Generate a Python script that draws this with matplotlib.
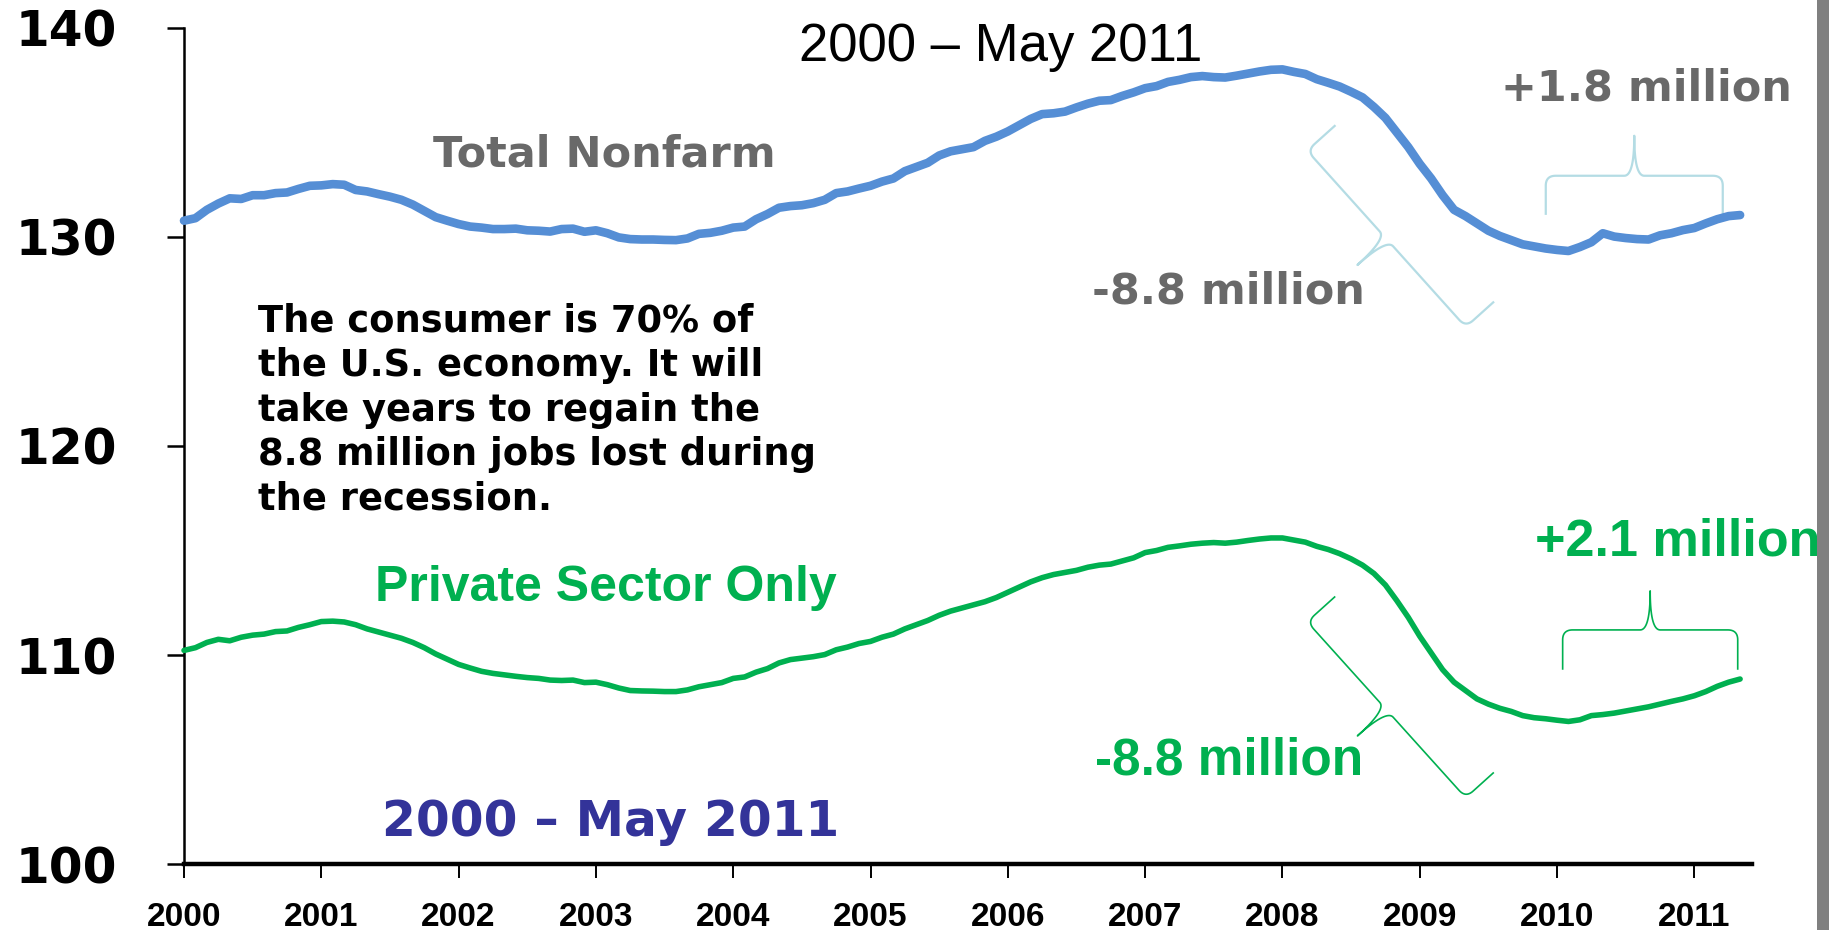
import numpy as np
import matplotlib
matplotlib.use("Agg")
import matplotlib.pyplot as plt
from matplotlib.patches import Rectangle

# Monthly payroll employment, millions, Jan 2000 - May 2011
total_nonfarm = [
    130.78, 130.90, 131.30, 131.60, 131.85, 131.82, 132.00, 132.00, 132.10, 132.13, 132.30, 132.45,
    132.47, 132.53, 132.50, 132.25, 132.18, 132.05, 131.93, 131.78, 131.55, 131.25, 130.95, 130.78,
    130.62, 130.50, 130.45, 130.38, 130.38, 130.40, 130.32, 130.30, 130.26, 130.38, 130.40, 130.25,
    130.32, 130.18, 129.98, 129.90, 129.88, 129.88, 129.86, 129.85, 129.93, 130.15, 130.20, 130.30,
    130.45, 130.50, 130.85, 131.10, 131.40, 131.48, 131.52, 131.62, 131.78, 132.10, 132.18, 132.32,
    132.45, 132.65, 132.80, 133.15, 133.35, 133.55, 133.90, 134.10, 134.20, 134.30, 134.60, 134.80,
    135.05, 135.35, 135.65, 135.88, 135.92, 136.00, 136.20, 136.38, 136.52, 136.55, 136.75, 136.92,
    137.12, 137.22, 137.42, 137.52, 137.65, 137.70, 137.65, 137.63, 137.72, 137.82, 137.92, 138.00,
    138.02, 137.90, 137.80, 137.55, 137.38, 137.20, 136.95, 136.68, 136.22, 135.70, 135.00, 134.30,
    133.50, 132.80, 132.00, 131.30, 131.00, 130.65, 130.30, 130.05, 129.85, 129.65, 129.55, 129.45,
    129.38, 129.33, 129.52, 129.75, 130.18, 130.02, 129.95, 129.90, 129.88, 130.08, 130.18, 130.33,
    130.43, 130.65, 130.85, 131.00, 131.05,
]
private_sector = [
    110.22, 110.35, 110.60, 110.75, 110.68, 110.85, 110.95, 111.00, 111.12, 111.15, 111.32, 111.45,
    111.60, 111.62, 111.58, 111.45, 111.25, 111.10, 110.95, 110.80, 110.60, 110.35, 110.05, 109.80,
    109.55, 109.38, 109.22, 109.12, 109.05, 108.98, 108.92, 108.88, 108.80, 108.78, 108.80, 108.68,
    108.70, 108.58, 108.42, 108.30, 108.28, 108.27, 108.25, 108.25, 108.33, 108.48, 108.58, 108.68,
    108.88, 108.95, 109.18, 109.35, 109.62, 109.78, 109.85, 109.92, 110.02, 110.25, 110.38, 110.55,
    110.65, 110.85, 111.00, 111.25, 111.45, 111.65, 111.90, 112.10, 112.25, 112.40, 112.55, 112.75,
    113.00, 113.25, 113.50, 113.70, 113.85, 113.95, 114.05, 114.20, 114.30, 114.35, 114.50, 114.65,
    114.90, 115.00, 115.15, 115.22, 115.30, 115.35, 115.38, 115.35, 115.40, 115.48, 115.55, 115.60,
    115.60, 115.50, 115.40, 115.20, 115.05, 114.85, 114.60, 114.30, 113.90, 113.35, 112.60, 111.80,
    110.90, 110.10, 109.30, 108.70, 108.30, 107.90, 107.65, 107.45, 107.30, 107.10, 107.00, 106.95,
    106.88, 106.82, 106.90, 107.10, 107.15, 107.22, 107.32, 107.42, 107.52, 107.65, 107.78, 107.90,
    108.05, 108.25, 108.50, 108.70, 108.85,
]
year_ticks = list(range(2000, 2012))
value_ticks = [100, 110, 120, 130, 140]

consumer_note = [
    "The consumer is 70% of",
    "the U.S. economy. It will",
    "take years to regain the",
    "8.8 million jobs lost during",
    "the recession.",
]

blue = "#558ED5"
green = "#00B050"
gray_text = "#696969"
brace_gray = "#B4DCE4"
navy = "#333399"

months = 2000 + np.arange(len(total_nonfarm)) / 12.0

fig = plt.figure(figsize=(18.29, 9.30), dpi=100)
ax = fig.add_axes([184 / 1829, 66 / 930, 1568 / 1829, 836 / 930])
ax.set_xlim(2000, 2011.42)
ax.set_ylim(100, 140)

ax.plot(months, total_nonfarm, color=blue, lw=6.2, solid_capstyle="round", clip_on=False, zorder=3)
ax.plot(months, private_sector, color=green, lw=4.0, solid_capstyle="round", clip_on=False, zorder=3)

for s in ["top", "right"]:
    ax.spines[s].set_visible(False)
ax.spines["left"].set_linewidth(1.8)
ax.spines["bottom"].set_linewidth(3.2)
ax.spines["left"].set_bounds(100, 140)

ax.set_yticks(value_ticks)
ax.set_xticks(year_ticks)
ax.set_xticklabels([str(y) for y in year_ticks])
ax.tick_params(axis="y", direction="out", length=12, width=1.8, pad=36, labelsize=35)
ax.tick_params(axis="x", direction="out", length=10, width=1.4, pad=17, labelsize=24)
for lab in ax.get_yticklabels():
    lab.set_fontweight("bold")
    lab.set_family("DejaVu Sans")
for lab in ax.get_xticklabels():
    lab.set_fontweight("bold")
    lab.set_family("Liberation Sans")


def brace(p0, p1, arm, tip, side, color, lw, r=10):
    # curly brace between two data points, lengths in pixels
    a = ax.transData.transform(p0)
    b = ax.transData.transform(p1)
    u = (b - a) / np.linalg.norm(b - a)
    n = side * np.array([-u[1], u[0]])
    m = (a + b) / 2

    def quad(p, c, q, k=20):
        t = np.linspace(0, 1, k)[:, None]
        return (1 - t) ** 2 * p + 2 * (1 - t) * t * c + t ** 2 * q

    pts = np.vstack([
        [a - n * arm],
        quad(a - n * r, a, a + u * r),
        quad(m - u * r, m, m + n * tip),
        quad(m + n * tip, m, m + u * r),
        quad(b - u * r, b, b - n * r),
        [b - n * arm],
    ])
    d = ax.transData.inverted().transform(pts)
    ax.plot(d[:, 0], d[:, 1], color=color, lw=lw, clip_on=False, zorder=2)


brace((2008.18, 134.13), (2009.335, 125.69), 37, 39, -1, brace_gray, 1.6)
brace((2009.918, 132.93), (2011.207, 132.93), 38, 40, 1, brace_gray, 1.6)
brace((2008.18, 111.59), (2009.335, 103.17), 37, 39, -1, green, 1.2)
brace((2010.041, 111.20), (2011.316, 111.20), 39, 39, 1, green, 1.2)

bold_dv = dict(family="DejaVu Sans", fontweight="bold", clip_on=False)
bold_lib = dict(family="Liberation Sans", fontweight="bold", clip_on=False)

ax.text(2003.06, 133.35, "Total Nonfarm", color=gray_text, fontsize=31, ha="center", va="baseline", **bold_dv)
ax.text(2007.61, 126.84, "-8.8 million", color=gray_text, fontsize=31, ha="center", va="baseline", **bold_dv)
ax.text(2010.65, 136.55, "+1.8 million", color=gray_text, fontsize=31, ha="center", va="baseline", **bold_dv)

ax.text(2003.07, 112.58, "Private Sector Only", color=green, fontsize=36, ha="center", va="baseline", **bold_lib)
ax.text(2007.61, 104.28, "-8.8 million", color=green, fontsize=37, ha="center", va="baseline", **bold_lib)
ax.text(2010.88, 114.78, "+2.1 million", color=green, fontsize=37.5, ha="center", va="baseline", **bold_lib)

ax.text(2003.11, 101.34, "2000 \u2013 May 2011", color=navy, fontsize=35, ha="center", va="baseline", **bold_dv)

for i, line in enumerate(consumer_note):
    ax.text(2000.54, 125.5 - i * 2.14, line, color="black", fontsize=26.6, ha="left", va="baseline", **bold_dv)

ax.text(2005.95, 138.42, "2000 \u2013 May 2011", color="black", fontsize=38, ha="center", va="baseline",
        family="Liberation Sans", clip_on=False)

# gray frame edge on the right
fig.patches.append(Rectangle((1817 / 1829, 0), 12 / 1829, 1, transform=fig.transFigure,
                             facecolor="#808080", edgecolor="none"))

fig.savefig("out.png", dpi=100)
